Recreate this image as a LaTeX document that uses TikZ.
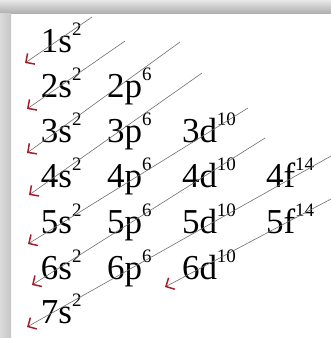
\documentclass[tikz,border=0pt]{standalone}
\usepackage{fontspec}
\setmainfont{Liberation Serif}
\usetikzlibrary{arrows.meta}
\definecolor{arrowred}{HTML}{A3202A}
\definecolor{linegray}{HTML}{707070}
\newcommand{\orbx}[2]{\fontsize{35}{35}\selectfont #1\raisebox{17pt}{\fontsize{19}{19}\selectfont #2}}
\tikzset{
  orbital/.style={anchor=base west, inner sep=0pt, outer sep=0pt},
  diag/.style={draw=linegray, line width=0.6pt,
    -{Straight Barb[length=6.5pt,width=13pt,line width=1.5pt,color=arrowred]}}
}
\begin{document}
\begin{tikzpicture}[x=1pt,y=-1pt]
\useasboundingbox (0,0) rectangle (331,338);
\fill[white] (0,0) rectangle (331,338);
% frame
\shade[top color=gray!18, bottom color=gray!62] (0,0) rectangle (331,13);
\shade[left color=gray!28, right color=gray!45] (0,13) rectangle (11,338);
% orbitals
\node[orbital] (s1) at (41,52) {\orbx{1s}{2}};
\node[orbital] (s2) at (41,97) {\orbx{2s}{2}};
\node[orbital] (p2) at (107,97) {\orbx{2p}{6}};
\node[orbital] (s3) at (41,142) {\orbx{3s}{2}};
\node[orbital] (p3) at (107,142) {\orbx{3p}{6}};
\node[orbital] (d3) at (182,142) {\orbx{3d}{10}};
\node[orbital] (s4) at (41,187) {\orbx{4s}{2}};
\node[orbital] (p4) at (107,187) {\orbx{4p}{6}};
\node[orbital] (d4) at (182,187) {\orbx{4d}{10}};
\node[orbital] (f4) at (266,187) {\orbx{4f}{14}};
\node[orbital] (s5) at (41,233) {\orbx{5s}{2}};
\node[orbital] (p5) at (107,233) {\orbx{5p}{6}};
\node[orbital] (d5) at (182,233) {\orbx{5d}{10}};
\node[orbital] (f5) at (266,233) {\orbx{5f}{14}};
\node[orbital] (s6) at (41,279) {\orbx{6s}{2}};
\node[orbital] (p6) at (107,279) {\orbx{6p}{6}};
\node[orbital] (d6) at (182,279) {\orbx{6d}{10}};
\node[orbital] (s7) at (41,323) {\orbx{7s}{2}};
% line ends
\coordinate (t1) at (92,17);   \coordinate (e1) at (25,63);
\coordinate (t2) at (125,41);  \coordinate (e2) at (27,109);
\coordinate (t3) at (180,42);  \coordinate (e3) at (27,153);
\coordinate (t4) at (202,73);  \coordinate (e4) at (29,195);
\coordinate (t5) at (248,108); \coordinate (e5) at (28,244);
\coordinate (t6) at (265,138); \coordinate (e6) at (32,285);
\coordinate (t7) at (331,156); \coordinate (e7) at (27,327);
\coordinate (t8) at (331,199); \coordinate (e8) at (165,287);
\draw[diag] (t1) -- (e1);
\draw[diag] (t2) -- (e2);
\draw[diag] (t3) -- (e3);
\draw[diag] (t4) -- (e4);
\draw[diag] (t5) -- (e5);
\draw[diag] (t6) -- (e6);
\draw[diag] (t7) -- (e7);
\draw[diag] (t8) -- (e8);
\end{tikzpicture}
\end{document}
